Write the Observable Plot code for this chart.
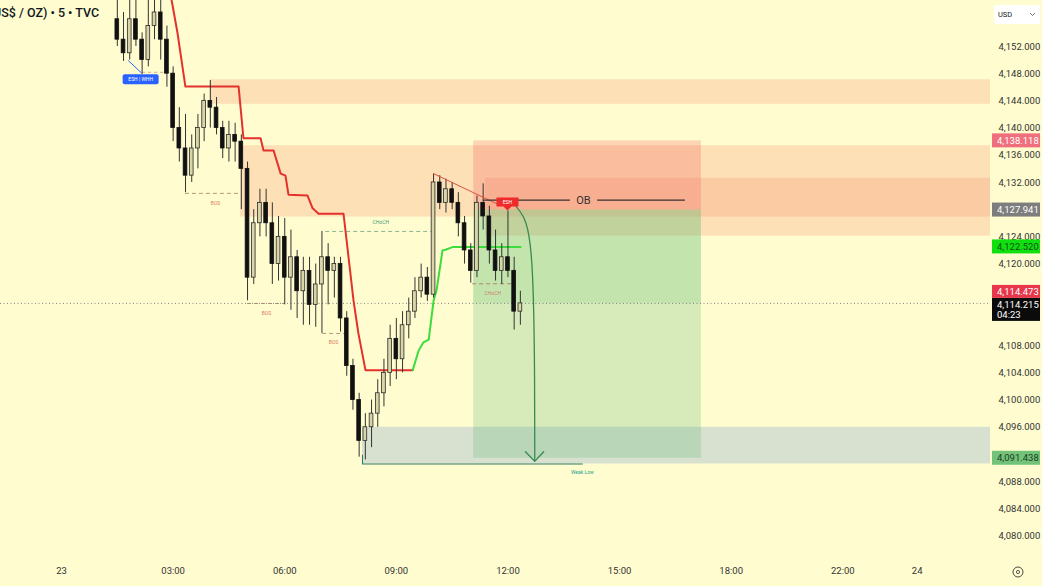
<!DOCTYPE html>
<html><head><meta charset="utf-8">
<script src="https://cdn.jsdelivr.net/npm/d3@7"></script>
<script src="https://cdn.jsdelivr.net/npm/@observablehq/plot@0.6"></script>
<style>
html,body{margin:0;padding:0;background:#fffdd0;overflow:hidden}
svg{display:block}
</style></head><body><div id="chart"></div>
<script>
// ---- data (time in hours of trading session after "23", price in USD/oz) ----
const candleStart = 1.5;          // first 10-minute candle
const candleStep = 1 / 6;
const opens  = [4156,4153,4151,4156,4153,4150,4155,4157,4153,4148,4140,4137,4133,4137,4140,4144,4143,4140,4137,4139,4138,4134,4118,4126,4129,4126,4120,4124,4118,4121,4116,4119,4114,4117,4121,4119,4120,4112,4105,4100,4094,4096,4098,4101,4104,4109,4106,4111,4113,4116,4118,4115.5,4132,4129,4131,4129,4126,4122,4119,4129,4127,4122,4119,4121,4119,4113];
const highs  = [4159,4157,4159,4159,4154,4159,4159,4159,4155,4149,4143,4142,4139,4142,4145,4147,4144.5,4141,4141,4140.7,4139,4135,4128,4131,4131,4129,4127,4126.7,4125,4122,4121,4121,4120,4124.8,4123,4121,4121,4113,4106,4101,4098,4100,4103,4106,4111,4112,4113,4115,4118,4120,4119.5,4133.3,4133,4132.5,4132,4130.5,4127,4123,4130,4131.8,4128.5,4125,4123,4127.8,4121,4116];
const lows   = [4152,4149.8,4150,4152,4147.9,4149,4153,4150,4146,4138,4135,4130.5,4132,4134,4138,4140,4139,4135.5,4135,4135,4128,4114.6,4117,4124,4124,4117,4117.5,4114,4113.2,4112,4111,4111,4110.7,4109.8,4114,4115,4110,4103.5,4098.5,4091.6,4091.2,4093,4096,4099,4102,4103,4104,4109,4112,4115,4114.5,4115,4128,4127.5,4128,4124,4120,4117.2,4118,4125,4120,4117.5,4117,4118,4110.3,4111];
const closes = [4153,4151,4156,4153,4150,4155,4157,4153,4148,4140,4137,4133,4137,4140,4144,4143,4140,4137,4139,4138,4134,4118,4126,4129,4126,4120,4124,4118,4121,4116,4119,4114,4117,4121,4119,4120,4112,4105,4100,4094,4096,4098,4101,4104,4109,4106,4111,4113,4116,4118,4115.5,4132,4129,4131,4129,4126,4122,4119,4129,4127,4122,4119,4121,4119,4113,4114.215];

// supertrend
const redT   = [2.90,2.96,3.12,3.33,4.76,4.89,5.35,5.43,5.70,5.89,6.02,6.10,6.61,6.75,6.91,7.58,7.85,7.98,8.17,9.44];
const redP   = [4161,4158.8,4153.9,4146.1,4146.1,4138.5,4138.5,4136.7,4136.7,4133.3,4133.0,4130.2,4130.1,4128.2,4127.4,4127.4,4114.6,4109.8,4104.4,4104.4];
const greenT = [9.44,9.60,9.73,9.87,10.0,10.08,10.24,10.32,10.51,12.34];
const greenP = [4104.4,4107.3,4108.5,4108.9,4114.6,4116.1,4122.0,4122.1,4122.5,4122.5];

// zones
const supplyStart  = [4.0, 4.81, 11.4];
const supplyTop    = [4147.1, 4137.4, 4132.6];
const supplyBottom = [4143.5, 4126.9, 4124.1];
const demandStart  = [8.09];
const demandTop    = [4096.0];
const demandBottom = [4090.6];

// short position tool
const posStart = 11.08, posEnd = 17.2;
const stopPrice = 4138.118, entryPrice = 4127.941, targetPrice = 4091.438;
const lastPrice = 4114.215, lastPrice2 = 4114.473, trendPrice = 4122.520;
const countdown = "04:23";

// structure
const bosP  = [4130.4, 4114.2, 4109.8];
const bosT1 = [3.33, 5.0, 7.02];
const bosT2 = [4.81, 6.02, 7.72];
const bosLabelT = [4.14, 5.51, 7.31];
const bosLabelP = [4128.9, 4112.7, 4108.5];
const chochGreen = {p: 4124.8, t1: 7.1, t2: 9.97, lt: 8.58, lp: 4126.1};
const chochRed   = {p: 4117.1, t1: 11.05, t2: 12.12, lt: 11.59, lp: 4115.7};
const weakLowT = [8.09, 8.09, 14.0];
const weakLowP = [4091.9, 4090.6, 4090.6];
const weakLowLabel = {t: 14.0, p: 4089.3};
const obP = 4129.4, obT = [11.34, 13.68, 14.03, 14.41, 16.77];
const trendT = [10.0, 11.8], trendP = [4133.3, 4128.6];
const eshBlueLineT = [1.80, 2.15], eshBlueLineP = [4149.9, 4148.1];
const eshBlueDashP = 4148.2, eshBlueDashT = [2.18, 2.93];
const eshBlue = {t: 2.14, p: 4147.1, text: "ESH | WHH"};
const eshRed = {t: candleStart + 63 * candleStep, p: 4127.8, text: "ESH"};
const arrowT = [12.15, 12.45, 12.61, 12.69, 12.72, 12.72];
const arrowP = [4128.9, 4127.1, 4123.5, 4116.1, 4102.9, 4091.1];
const arrowHeadT = [12.47, 12.72, 12.96];
const arrowHeadP = [4092.4, 4091.0, 4092.4];

// axes (ticks hidden under price tags are left out, as in the reference)
const yTicks = [4080, 4084, 4088, 4096, 4100, 4104, 4108, 4120, 4124, 4132, 4136, 4140, 4144, 4148, 4152];
const xTicks = [0, 3, 6, 9, 12, 15, 18, 21, 23];
const xLabels = ["23", "03:00", "06:00", "09:00", "12:00", "15:00", "18:00", "22:00", "24"];
const title = "US$ / OZ) \u2022 5 \u2022 TVC";

const xDomain = [-1.64, 24.97];
const yDomain = [4076.7, 4158.76];
const xEnd = xDomain[1];

// ---- tables ----
const candles = opens.map((o, i) => ({t: candleStart + i * candleStep, o, h: highs[i], l: lows[i], c: closes[i]}));
const up = candles.filter(d => d.c >= d.o), down = candles.filter(d => d.c < d.o);
const supply = supplyStart.map((s, i) => ({x1: s, top: supplyTop[i], bottom: supplyBottom[i]}));
const demand = demandStart.map((s, i) => ({x1: s, top: demandTop[i], bottom: demandBottom[i]}));
const red = redT.map((t, i) => ({t, p: redP[i]}));
const green = greenT.map((t, i) => ({t, p: greenP[i]}));
const bos = bosP.map((p, i) => ({p, t1: bosT1[i], t2: bosT2[i], lt: bosLabelT[i], lp: bosLabelP[i]}));
const zip = (a, b) => a.map((t, i) => ({t, p: b[i]}));
const hw = 0.05;

const chart = Plot.plot({
  width: 1042, height: 586,
  marginTop: 0, marginRight: 52, marginBottom: 28, marginLeft: 0,
  style: {background: "#fffdd0", fontFamily: "Roboto, 'Noto Sans', sans-serif", color: "#333"},
  x: {domain: xDomain},
  y: {domain: yDomain},
  marks: [
    Plot.rect(supply, {x1: "x1", x2: xEnd, y1: "top", y2: "bottom", fill: "#f7a07a", fillOpacity: 0.3}),
    Plot.rect(demand, {x1: "x1", x2: xEnd, y1: "top", y2: "bottom", fill: "#7098d0", fillOpacity: 0.27}),
    // position tool
    Plot.rect([0], {x1: posStart, x2: posEnd, y1: entryPrice, y2: stopPrice, fill: "#f23645", fillOpacity: 0.2}),
    Plot.rect([0], {x1: posStart, x2: posEnd, y1: targetPrice, y2: entryPrice, fill: "#5cb974", fillOpacity: 0.25}),
    Plot.rect([0], {x1: posStart, x2: posEnd, y1: lastPrice, y2: entryPrice, fill: "#5cb974", fillOpacity: 0.15}),
    // current price
    Plot.ruleY([lastPrice], {stroke: "#666", strokeWidth: 0.8, strokeDasharray: "1,2.5"}),
    // structure lines
    Plot.ruleY(bos, {y: "p", x1: "t1", x2: "t2", stroke: "#9a7e66", strokeWidth: 0.8, strokeDasharray: "4,3"}),
    Plot.text(bos, {x: "lt", y: "lp", text: () => "BOS", fill: "#e07a62", fontSize: 5}),
    Plot.ruleY([chochGreen], {y: "p", x1: "t1", x2: "t2", stroke: "#6f9e84", strokeWidth: 0.8, strokeDasharray: "4,3"}),
    Plot.text([chochGreen], {x: "lt", y: "lp", text: () => "CHoCH", fill: "#3f9c7e", fontSize: 5}),
    Plot.ruleY([chochRed], {y: "p", x1: "t1", x2: "t2", stroke: "#a0705a", strokeWidth: 0.8, strokeDasharray: "4,3"}),
    Plot.text([chochRed], {x: "lt", y: "lp", text: () => "CHoCH", fill: "#d0806a", fontSize: 5}),
    Plot.line(zip(weakLowT, weakLowP), {x: "t", y: "p", stroke: "#2e7d62", strokeWidth: 1.1}),
    Plot.text([weakLowLabel], {x: "t", y: "p", text: () => "Weak Low", fill: "#2a9d8f", fontSize: 5}),
    Plot.ruleY([0], {y: eshBlueDashP, x1: eshBlueDashT[0], x2: eshBlueDashT[1], stroke: "#d09070", strokeWidth: 0.8, strokeDasharray: "3,3"}),
    Plot.line(zip(eshBlueLineT, eshBlueLineP), {x: "t", y: "p", stroke: "#2962ff", strokeWidth: 1}),
    // supertrend
    Plot.line(red, {x: "t", y: "p", stroke: "#e3312d", strokeWidth: 2, clip: true}),
    Plot.line(green, {x: "t", y: "p", stroke: "#3ddc3d", strokeWidth: 2}),
    // candles
    Plot.ruleX(candles, {x: "t", y1: "l", y2: "h", stroke: "#333", strokeWidth: 1, clip: true}),
    Plot.rect(up, {x1: d => d.t - hw, x2: d => d.t + hw, y1: "o", y2: "c", fill: "#d9d5a8", stroke: "#2a2a2a", strokeWidth: 0.8, clip: true}),
    Plot.rect(down, {x1: d => d.t - hw, x2: d => d.t + hw, y1: "o", y2: "c", fill: "#111", stroke: "#111", strokeWidth: 0.8, clip: true}),
    // trend line + OB
    Plot.line(zip(trendT, trendP), {x: "t", y: "p", stroke: "#e05040", strokeWidth: 1}),
    Plot.ruleY([0], {y: obP, x1: obT[0], x2: obT[1], stroke: "#3a3030", strokeWidth: 1.3}),
    Plot.ruleY([0], {y: obP, x1: obT[3], x2: obT[4], stroke: "#3a3030", strokeWidth: 1.3}),
    Plot.text([0], {x: obT[2], y: obP, text: () => "OB", fill: "#333", fontSize: 11}),
    // projection arrow
    Plot.line(zip(arrowT, arrowP), {x: "t", y: "p", stroke: "#3a8a4e", strokeWidth: 1.3, curve: "basis"}),
    Plot.line(zip(arrowHeadT, arrowHeadP), {x: "t", y: "p", stroke: "#3a8a4e", strokeWidth: 1.3}),
    // axes
    Plot.axisY({anchor: "right", ticks: yTicks, tickSize: 0, tickPadding: 8, tickFormat: d3.format(",.3f"), fontSize: 9.5, fill: "#333", label: null}),
    Plot.axisX({anchor: "bottom", ticks: xTicks, tickSize: 0, tickPadding: 9, tickFormat: d => xLabels[xTicks.indexOf(d)], fontSize: 9.5, fill: "#333", label: null})
  ]
});
document.getElementById("chart").appendChild(chart);

// ---- annotations drawn with the plot's own scales ----
const X = v => chart.scale("x").apply(v), Y = v => chart.scale("y").apply(v);
const svg = d3.select(chart);
const g = svg.append("g").attr("font-family", "Roboto, 'Noto Sans', sans-serif").attr("text-anchor", "start");
const axisLeft = chart.scale("x").range[1];

// blue ESH label
{
  const cx = X(eshBlue.t), cy = Y(eshBlue.p);
  g.append("rect").attr("x", cx - 18).attr("y", cy - 5).attr("width", 36).attr("height", 10).attr("rx", 2).attr("fill", "#2962ff");
  g.append("text").attr("x", cx).attr("y", cy).attr("dy", "0.35em").attr("text-anchor", "middle").attr("font-size", 5).attr("fill", "#fff").text(eshBlue.text);
}
// red ESH label
{
  const cx = X(eshRed.t), cy = Y(eshRed.p);
  g.append("path").attr("d", `M${cx-11},${cy-13}h22v9h-7l-4,4l-4,-4h-7z`).attr("fill", "#ee2a2a");
  g.append("text").attr("x", cx).attr("y", cy - 8.5).attr("dy", "0.35em").attr("text-anchor", "middle").attr("font-size", 5).attr("fill", "#fff").text(eshRed.text);
}
// title (clipped at the left edge, as in the reference)
g.append("text").attr("x", -7).attr("y", 13).attr("dy", "0.35em").attr("text-anchor", "start").attr("font-size", 12.5).attr("font-weight", 500).attr("fill", "#131722").text(title);

// price tags on the axis
function tag(y, h, fill, color, lines) {
  g.append("rect").attr("x", axisLeft + 2).attr("y", y).attr("width", 48).attr("height", h).attr("fill", fill);
  lines.forEach((s, i) => g.append("text").attr("x", axisLeft + 7).attr("y", y + 7 + i * 10).attr("dy", "0.35em")
    .attr("text-anchor", "start").attr("font-size", 9.5).attr("fill", color).text(s));
}
const fmt = d3.format(",.3f");
tag(Y(stopPrice) - 7, 14, "#ef6f7d", "#fff", [fmt(stopPrice)]);
tag(Y(entryPrice) - 7, 14, "#7d7d7d", "#fff", [fmt(entryPrice)]);
tag(Y(trendPrice) - 7, 14, "#10e010", "#145214", [fmt(trendPrice)]);
tag(Y(targetPrice) - 7, 14, "#72c27a", "#1d3d20", [fmt(targetPrice)]);
tag(Y(lastPrice) - 5, 23, "#0b0b0b", "#fff", [fmt(lastPrice), countdown]);
tag(Y(lastPrice) - 18, 13, "#e8364b", "#fff", [fmt(lastPrice2)]);

// currency box
g.append("rect").attr("x", axisLeft + 4).attr("y", 5).attr("width", 46).attr("height", 19).attr("rx", 2).attr("fill", "#fff");
g.append("text").attr("x", axisLeft + 8).attr("y", 14.5).attr("dy", "0.35em").attr("text-anchor", "start").attr("font-size", 7.5).attr("fill", "#222").text("USD");
g.append("path").attr("d", `M${axisLeft+40},13l2.5,2.5l2.5,-2.5`).attr("fill", "none").attr("stroke", "#555").attr("stroke-width", 0.8);
// settings icon bottom right
g.append("circle").attr("cx", axisLeft + 28).attr("cy", 572).attr("r", 5).attr("fill", "none").attr("stroke", "#333").attr("stroke-width", 0.9);
g.append("circle").attr("cx", axisLeft + 28).attr("cy", 572).attr("r", 1.6).attr("fill", "none").attr("stroke", "#333").attr("stroke-width", 0.8);
</script>
</body></html>
